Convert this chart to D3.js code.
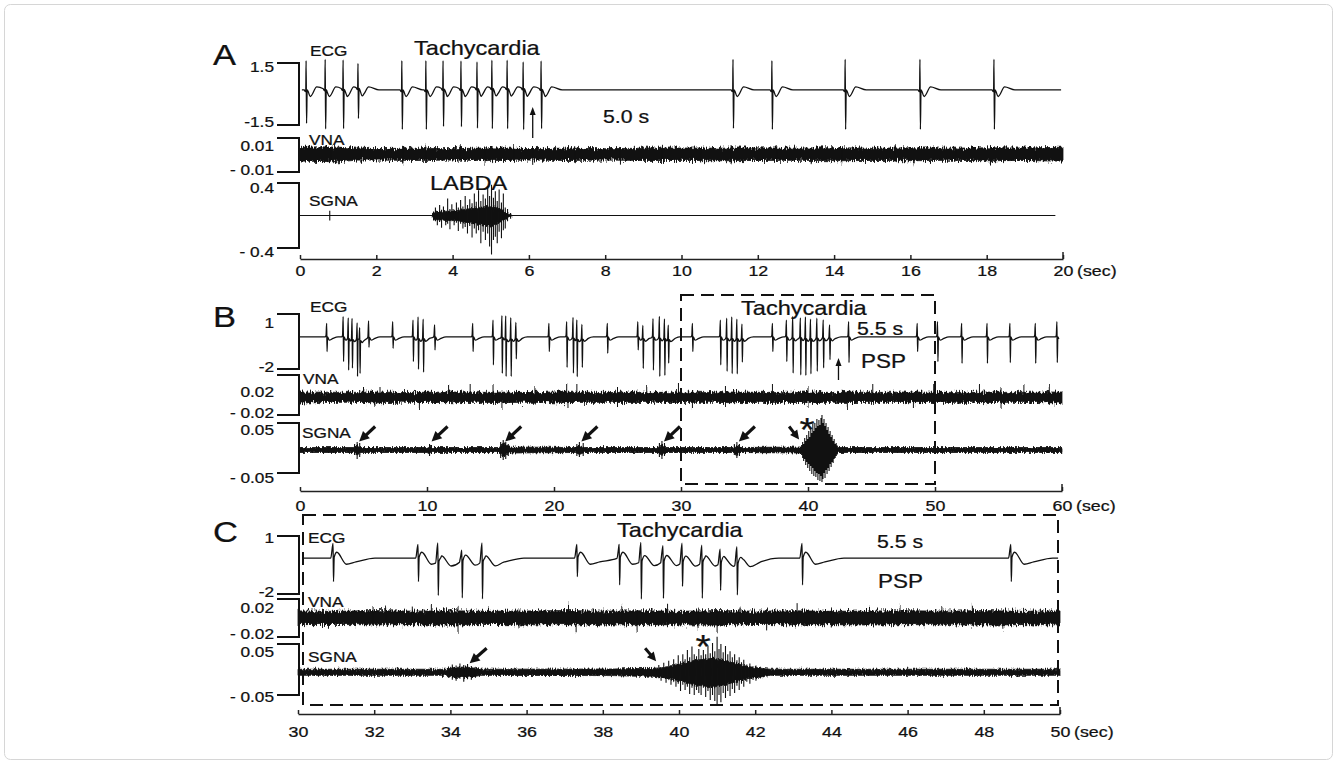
<!DOCTYPE html>
<html>
<head>
<meta charset="utf-8">
<script src="https://cdn.jsdelivr.net/npm/d3@7"></script>
<style>
  html, body { margin: 0; background: #fff; }
  svg { display: block; }
</style>
</head>
<body>
<div id="chart"></div>
<script>
// ---------- data ----------
const ticksA = [0, 2, 4, 6, 8, 10, 12, 14, 16, 18, 20];
const ticksB = [0, 10, 20, 30, 40, 50, 60];
const ticksC = [30, 32, 34, 36, 38, 40, 42, 44, 46, 48, 50];

// scale bars: [top, bottom] for ECG, VNA, SGNA
const rangeValuesA = [[1.5, -1.5], [0.01, -0.01], [0.4, -0.4]];
const rangeLabelsA = [["1.5", "-1.5"], ["0.01", "- 0.01"], ["0.4", "- 0.4"]];
const rangeValuesB = [[1, -2], [0.02, -0.02], [0.05, -0.05]];
const rangeLabelsB = [["1", "-2"], ["0.02", "- 0.02"], ["0.05", "- 0.05"]];
const rangeValuesC = [[1, -2], [0.02, -0.02], [0.05, -0.05]];
const rangeLabelsC = [["1", "-2"], ["0.02", "- 0.02"], ["0.05", "- 0.05"]];

// ECG beats: [time s, R peak, S trough]
const ecgBaseA = 0.2;
const ecgBeatsA = [
  [0.16, 1.61, -1.42], [0.66, 1.65, -1.71], [1.13, 1.61, -1.71], [1.52, 1.40, -1.26],
  [2.67, 1.61, -1.71], [3.30, 1.61, -1.71], [3.75, 1.56, -1.61], [4.22, 1.56, -1.61],
  [4.64, 1.49, -1.71], [5.03, 1.56, -1.75], [5.43, 1.56, -1.75], [5.85, 1.49, -1.78],
  [6.32, 1.56, -1.71], [11.35, 1.68, -1.66], [12.37, 1.61, -1.71], [14.29, 1.68, -1.71],
  [16.25, 1.68, -1.71], [18.19, 1.68, -1.71]
];
const ecgBaseB = -0.25;
const ecgBeatsB = [
  [2.1, .49, -1.05], [3.4, .85, -1.60], [3.8, .90, -1.96], [4.1, .95, -1.78], [4.5, .67, -2.27],
  [4.7, .49, -2.02], [5.4, .67, -.78], [7.3, .58, -.87], [8.9, .67, -1.60], [9.3, .95, -1.91],
  [9.7, .85, -2.05], [10.6, .40, -.96], [13.6, .49, -1.05], [15.2, .67, -1.78], [15.9, .95, -2.20],
  [16.2, 1.04, -2.27], [16.6, .95, -2.27], [17.0, .67, -1.33], [19.6, .49, -1.05], [21.0, .58, -1.91],
  [21.5, .90, -2.15], [21.8, .85, -2.27], [22.2, .58, -1.78], [24.2, .49, -1.14], [26.6, .58, -.96],
  [27.0, .49, -1.87], [27.8, .76, -2.05], [28.3, .95, -2.33], [28.7, .85, -2.24], [29.0, .58, -1.51],
  [30.9, .49, -1.05], [33.1, .67, -1.78], [33.6, .85, -2.05], [34.0, .95, -2.15], [34.4, .85, -2.15],
  [34.8, .58, -1.51], [37.2, .49, -1.05], [38.3, .67, -1.60], [38.8, .95, -2.15], [39.4, .85, -2.27],
  [39.8, .95, -2.24], [40.2, .85, -2.15], [40.7, .85, -2.05], [41.2, .76, -1.87], [41.7, .49, -1.42],
  [43.2, .58, -1.65], [48.6, .49, -1.05], [50.2, .58, -1.60], [52.1, .49, -1.69], [54.1, .49, -1.69],
  [55.9, .49, -1.65], [57.9, .49, -1.69], [59.6, .58, -1.65]
];
const ecgBaseC = -0.14;
const ecgBeatsC = [
  [30.92, .62, -1.36], [33.15, .57, -1.36], [33.67, .88, -1.84], [34.30, .45, -2.02],
  [34.83, .88, -2.02], [37.32, .57, -1.10], [38.43, .57, -1.53], [39.00, .88, -2.05],
  [39.58, .71, -2.02], [40.08, .88, -1.36], [40.60, .80, -1.96], [41.08, .62, -1.53],
  [41.52, .80, -1.71], [43.23, .62, -1.53], [48.71, .57, -1.36]
];

// VNA: band envelope [t, upper, lower] and salient spikes [t, upper, lower]
const vnaCoreA = [
  [0, .0045, -.0035], [0.5, .0048, -.0038], [1, .0046, -.004], [1.5, .004, -.003], [2, .0038, -.003],
  [3, .004, -.0032], [4, .0037, -.003], [5, .0042, -.0033], [6, .0038, -.003], [7, .004, -.0032],
  [8, .0037, -.003], [9, .004, -.0032], [10, .0041, -.0032], [11, .004, -.0034], [12, .0042, -.0032],
  [13, .004, -.0031], [14, .0043, -.0034], [15, .004, -.0032], [16, .0042, -.0034], [17, .004, -.0031],
  [18, .0042, -.0034], [19, .0041, -.0032], [19.8, .0045, -.0036], [20, .0046, -.0036]
];
const vnaSpikesA = [
  [0.3, .0055, -.003], [0.8, .005, -.0045], [1.6, .0052, -.004], [2.7, .004, -.0055], [3.3, .0055, -.0035],
  [4.2, .0058, -.003], [4.85, .004, -.0052], [5.6, .0052, -.0035], [6.1, .004, -.0058], [7.2, .0052, -.004],
  [8.4, .005, -.0045], [9.5, .0054, -.0035], [10.5, .0045, -.005], [11.3, .0055, -.0055], [12.5, .0056, -.0035],
  [13.4, .0045, -.0048], [14.2, .005, -.0055], [15.6, .0056, -.004], [16.1, .0045, -.0055], [17.2, .0052, -.004],
  [18.1, .0045, -.0056], [19.3, .0056, -.004]
];
const vnaCoreB = [
  [0, .003, -.008], [2, .0028, -.0075], [4, .0026, -.0072], [6, .003, -.0078], [8, .0025, -.0072],
  [10, .0027, -.0074], [12, .003, -.0077], [14, .0026, -.0073], [16, .0028, -.0076], [18, .0025, -.0072],
  [20, .003, -.0078], [22, .0027, -.0074], [24, .0026, -.0073], [26, .0029, -.0076], [28, .0026, -.0073],
  [30, .0028, -.0075], [32, .0026, -.0072], [34, .003, -.0077], [36, .0027, -.0074], [38, .0026, -.0073],
  [40, .0029, -.0076], [42, .0026, -.0073], [44, .0028, -.0075], [46, .0026, -.0072], [48, .003, -.0077],
  [50, .0027, -.0074], [52, .0026, -.0073], [54, .0029, -.0076], [56, .0026, -.0073], [58, .0028, -.0075],
  [60, .003, -.008]
];
const vnaSpikesB = [
  [5.0, .009, -.007], [5.9, .003, -.012], [6.3, .008, -.008], [9.4, .003, -.014], [11.7, .01, -.008],
  [13.4, .011, -.008], [15.2, .011, -.007], [15.9, .003, -.014], [18.5, .008, -.01], [21.0, .012, -.008],
  [21.1, .003, -.013], [21.8, .01, -.008], [25.0, .008, -.011], [27.3, .009, -.009], [29.8, .012, -.008],
  [30.9, .003, -.014], [33.5, .009, -.01], [37.2, .011, -.008], [40.0, .008, -.011], [43.1, .003, -.013],
  [45.1, .01, -.008], [48.3, .003, -.012], [49.9, .012, -.008], [53.5, .01, -.009], [55.2, .008, -.012],
  [57.0, .01, -.008], [59.0, .009, -.01]
];
const vnaCoreC = [
  [30, .0075, -.007], [31, .007, -.0068], [32, .0078, -.0072], [33, .0072, -.007], [34, .0076, -.0074],
  [35, .007, -.0068], [36, .0074, -.0072], [37, .0078, -.007], [38, .0072, -.0074], [39, .0076, -.007],
  [40, .007, -.0072], [41, .0078, -.0074], [42, .0072, -.0068], [43, .0076, -.0072], [44, .007, -.007],
  [45, .0074, -.0074], [46, .0076, -.007], [47, .0072, -.0072], [48, .0078, -.0074], [49, .007, -.007],
  [50, .0075, -.0072]
];
const vnaSpikesC = [
  [30.8, .006, -.0124], [31.97, .0128, -.006], [32.3, .011, -.006], [33.0, .011, -.007], [33.5, .014, -.006],
  [34.2, .0128, -.0157], [35.0, .011, -.006], [35.8, .009, -.011], [36.5, .01, -.007], [37.1, .015, -.006],
  [37.3, .006, -.015], [38.5, .0128, -.006], [38.9, .006, -.0145], [39.7, .015, -.007], [40.5, .009, -.011],
  [41.0, .006, -.015], [41.6, .011, -.006], [42.3, .008, -.012], [43.1, .0167, -.006], [44.0, .009, -.011],
  [45.0, .0128, -.006], [45.8, .0128, -.007], [46.9, .0128, -.006], [47.7, .015, -.008], [48.5, .006, -.0124],
  [49.3, .01, -.009]
];

// SGNA: baseline band envelope and burst spikes [t, upper, lower]
const sgnaCoreA = [[0, .006, -.006], [3.45, .006, -.006], [3.55, .04, -.05], [3.8, .05, -.06], [4.1, .06, -.06],
  [4.4, .08, -.09], [4.7, .1, -.11], [5.0, .12, -.13], [5.3, .07, -.07], [5.45, .02, -.02], [5.55, .006, -.006],
  [19.8, .006, -.006]];
const sgnaSpikesA = [
  [0.78, .06, -.06],
  [3.50, .05, -.06], [3.55, .10, -.07], [3.60, .05, -.12], [3.66, .13, -.08], [3.71, .07, -.15], [3.76, .11, -.06],
  [3.82, .06, -.12], [3.87, .21, -.10], [3.93, .08, -.17], [3.98, .14, -.07], [4.04, .07, -.12], [4.10, .16, -.09],
  [4.15, .10, -.19], [4.21, .19, -.10], [4.27, .11, -.16], [4.33, .24, -.14], [4.39, .13, -.22], [4.45, .20, -.13],
  [4.51, .15, -.27], [4.57, .27, -.16], [4.62, .17, -.22], [4.68, .31, -.18], [4.74, .18, -.34], [4.80, .26, -.20],
  [4.86, .21, -.30], [4.92, .36, -.22], [4.97, .24, -.38], [5.02, .38, -.48], [5.07, .22, -.30], [5.12, .30, -.26],
  [5.17, .18, -.34], [5.22, .32, -.20], [5.28, .16, -.28], [5.33, .27, -.18], [5.38, .10, -.16], [5.44, .08, -.07],
  [5.52, .03, -.04]
];
const sgnaCoreB = [
  [0, .001, -.009], [4.2, .001, -.009], [4.5, .006, -.014], [4.8, .001, -.009], [10, .001, -.009],
  [10.2, .004, -.012], [10.4, .001, -.009], [15.7, .001, -.009], [16.0, .01, -.018], [16.4, .002, -.01],
  [21.7, .001, -.009], [22.0, .005, -.013], [22.4, .001, -.009], [28.2, .001, -.009], [28.5, .007, -.015],
  [28.8, .001, -.009], [34.1, .001, -.009], [34.4, .005, -.013], [34.7, .001, -.009], [39.5, .002, -.01],
  [40, .012, -.02], [40.6, .022, -.032], [41.1, .03, -.04], [41.6, .018, -.028], [42.1, .006, -.014],
  [42.4, .001, -.009], [60, .001, -.009]
];
const sgnaSpikesB = [
  [4.3, .008, -.014], [4.5, .012, -.022], [4.7, .010, -.018], [10.2, .008, -.016], [10.35, .006, -.012],
  [15.8, .012, -.020], [16.0, .016, -.024], [16.2, .012, -.022], [16.4, .008, -.016], [21.8, .008, -.016],
  [22.0, .012, -.018], [22.3, .010, -.016], [28.3, .010, -.018], [28.5, .014, -.022], [28.7, .010, -.016],
  [34.2, .008, -.014], [34.4, .012, -.02], [34.6, .008, -.016],
  [39.5, .006, -.014], [39.58, .012, -.02], [39.66, .008, -.026], [39.74, .02, -.022], [39.82, .014, -.034],
  [39.9, .026, -.028], [39.98, .018, -.04], [40.06, .034, -.032], [40.14, .022, -.046], [40.22, .04, -.036],
  [40.3, .03, -.052], [40.38, .048, -.04], [40.46, .034, -.056], [40.54, .05, -.046], [40.62, .04, -.058],
  [40.7, .058, -.05], [40.78, .044, -.064], [40.86, .056, -.052], [40.94, .046, -.066], [41.02, .06, -.056],
  [41.1, .066, -.068], [41.18, .05, -.062], [41.26, .058, -.05], [41.34, .044, -.06], [41.42, .05, -.044],
  [41.5, .036, -.052], [41.58, .042, -.04], [41.66, .028, -.046], [41.74, .034, -.032], [41.82, .022, -.038],
  [41.9, .026, -.028], [41.98, .014, -.03], [42.06, .018, -.022], [42.14, .008, -.02], [42.22, .01, -.016],
  [42.3, .005, -.013]
];
const sgnaCoreC = [
  [30, .0005, -.0115], [33.9, .0005, -.0115], [34.1, .004, -.015], [34.4, .005, -.016], [34.6, .003, -.014],
  [34.8, .0005, -.0115], [38.3, .001, -.012], [38.8, .002, -.013], [39.3, .002, -.013], [39.6, .004, -.016],
  [40.0, .01, -.022], [40.4, .018, -.03], [40.9, .022, -.035], [41.3, .016, -.028], [41.8, .006, -.018],
  [42.2, .002, -.014], [42.4, .0005, -.0115], [50, .0005, -.0115]
];
const sgnaSpikesC = [
  [33.95, .006, -.016], [34.05, .01, -.02], [34.15, .008, -.022], [34.25, .012, -.018], [34.35, .009, -.024],
  [34.45, .011, -.019], [34.55, .007, -.02], [34.65, .005, -.015],
  [39.40, .004, -.014], [39.47, .009, -.017], [39.53, .005, -.022], [39.60, .013, -.016], [39.66, .006, -.026],
  [39.73, .017, -.02], [39.79, .009, -.03], [39.86, .02, -.024], [39.92, .012, -.034], [39.98, .028, -.028],
  [40.04, .016, -.042], [40.10, .03, -.03], [40.16, .02, -.04], [40.22, .038, -.034], [40.28, .024, -.048],
  [40.34, .045, -.036], [40.40, .03, -.05], [40.46, .026, -.04], [40.52, .04, -.046], [40.58, .028, -.05],
  [40.64, .038, -.036], [40.70, .03, -.054], [40.76, .046, -.042], [40.82, .032, -.06], [40.88, .052, -.05],
  [40.94, .036, -.062], [41.00, .064, -.07], [41.05, .04, -.05], [41.10, .05, -.064], [41.16, .034, -.046],
  [41.22, .046, -.056], [41.28, .03, -.042], [41.34, .036, -.052], [41.40, .024, -.038], [41.46, .03, -.046],
  [41.52, .018, -.032], [41.58, .024, -.04], [41.64, .014, -.028], [41.70, .019, -.034], [41.78, .01, -.024],
  [41.86, .012, -.028], [41.94, .006, -.02], [42.02, .008, -.022], [42.12, .004, -.016], [42.22, .003, -.015],
  [42.32, .002, -.013]
];

// annotations
const upArrowTimesA = [6.1];
const upArrowTimesB = [42.4];
const burstArrowTimesB = [4.5, 10.2, 16.0, 22.0, 28.5, 34.4];
const burstArrowTimesC = [34.4];
const onsetArrowTimeB = 39.3;
const onsetArrowTimeC = 39.4;
const peakTimeB = 39.92;
const peakTimeC = 40.63;
const boxB = [30, 50];

// ---------- drawing ----------
const W = 1337, H = 764;
const FONT = '"Liberation Sans", Arial, Helvetica, sans-serif';
const INK = "#111";

const svg = d3.select("#chart").append("svg")
  .attr("width", W).attr("height", H)
  .style("font-family", FONT);

svg.append("rect").attr("x", 4.5).attr("y", 4.5).attr("width", W - 9).attr("height", H - 9)
  .attr("rx", 6).attr("fill", "#fff").attr("stroke", "#d6d6d6");

// noisy-edge texture for the nerve recordings
const defs = svg.append("defs");
function fuzzFilter(id, scale, freq) {
  const f = defs.append("filter").attr("id", id)
    .attr("filterUnits", "userSpaceOnUse").attr("x", 0).attr("y", 0).attr("width", W).attr("height", H)
    .attr("color-interpolation-filters", "sRGB");
  f.append("feTurbulence").attr("type", "fractalNoise").attr("baseFrequency", freq)
    .attr("numOctaves", 2).attr("seed", 7).attr("result", "n");
  f.append("feColorMatrix").attr("in", "n").attr("type", "matrix")
    .attr("values", "0 0 0 0 0.5  0 1 0 0 0  0 0 0 0 0  0 0 0 0 1").attr("result", "m");
  f.append("feDisplacementMap").attr("in", "SourceGraphic").attr("in2", "m")
    .attr("scale", scale).attr("xChannelSelector", "R").attr("yChannelSelector", "G");
}
fuzzFilter("fuzz", 9, "0.9 0.18");
fuzzFilter("fuzzS", 5, "0.9 0.2");

function txt(g, x, y, s, size, anchor) {
  return g.append("text")
    .attr("transform", `translate(${x},${y}) scale(1.15,1)`)
    .attr("text-anchor", anchor || "start")
    .attr("font-size", size).attr("fill", INK)
    .attr("stroke", INK).attr("stroke-width", 0.25).text(s);
}

function bracket(g, y, vals, labels, dyTop, dyBot) {
  const yt = y(vals[0]), yb = y(vals[1]);
  g.append("path").attr("d", `M277,${yt}H299V${yb}H277`)
    .attr("fill", "none").attr("stroke", INK).attr("stroke-width", 2);
  txt(g, 274, yt + dyTop, labels[0], 15, "end");
  txt(g, 274, yb + dyBot, labels[1], 15, "end");
}

function axis(g, x, ticks, yPos, pad) {
  const ax = d3.axisBottom(x).tickValues(ticks).tickSizeInner(-4).tickSizeOuter(0).tickPadding(pad);
  const a = g.append("g").attr("transform", `translate(0,${yPos})`).call(ax);
  a.attr("font-family", FONT);
  a.select(".domain").attr("stroke", "#222").attr("stroke-width", 1.5);
  a.selectAll(".tick line").attr("stroke", "#222").attr("stroke-width", 1.5);
  a.selectAll(".tick text").attr("font-size", 15.5).attr("fill", INK)
    .attr("stroke", INK).attr("stroke-width", 0.25).attr("transform", "scale(1.15,1)");
  const xe = x(ticks[ticks.length - 1]);
  a.append("line").attr("x1", xe).attr("x2", xe).attr("y1", 0).attr("y2", -7)
    .attr("stroke", "#222").attr("stroke-width", 1.5);
  txt(g, xe + 14, yPos + pad + 10.8, "(sec)", 15.5);
}

// sum of per-beat templates on top of a flat baseline
function ecg(g, beats, base, tpl, t0, t1, x, y) {
  const amp = (p, b) => p[1] === "T" ? b[1] - base : p[1] === "B" ? b[2] - base : p[1];
  const keys = new Set([t0, t1]);
  beats.forEach(b => tpl.forEach(p => keys.add(+(b[0] + p[0]).toFixed(4))));
  const ts = [...keys].filter(t => t >= t0 && t <= t1).sort((a, b) => a - b);
  const val = t => {
    let v = base;
    beats.forEach(b => {
      const d = t - b[0];
      if (d <= tpl[0][0] || d >= tpl[tpl.length - 1][0]) return;
      for (let i = 1; i < tpl.length; i++) {
        if (d <= tpl[i][0] + 1e-9) {
          const a = tpl[i - 1], c = tpl[i];
          const va = amp(a, b), vc = amp(c, b);
          v += va + (vc - va) * (d - a[0]) / (c[0] - a[0]);
          break;
        }
      }
    });
    return v;
  };
  g.append("path").datum(ts.map(t => [t, val(t)]))
    .attr("d", d3.line().x(d => x(d[0])).y(d => y(d[1])).curve(d3.curveMonotoneX))
    .attr("fill", "none").attr("stroke", INK).attr("stroke-width", 1.3).attr("stroke-linejoin", "round");
}

function band(g, core, x, y, filter) {
  const gg = g.append("g");
  if (filter) gg.attr("filter", `url(#${filter})`);
  gg.append("path").datum(core)
    .attr("d", d3.area().x(d => x(d[0])).y0(d => y(d[2])).y1(d => y(d[1])))
    .attr("fill", INK).attr("stroke", INK).attr("stroke-width", 0.8);
  return gg;
}
function spikes(g, list, x, y, sw) {
  g.append("path")
    .attr("d", list.map(s => `M${x(s[0])},${y(s[1])}V${y(s[2])}`).join(""))
    .attr("fill", "none").attr("stroke", INK).attr("stroke-width", sw || 1);
}

function arrow(g, tx, ty, hx, hy, hl, hw, sw) {
  const dx = hx - tx, dy = hy - ty, L = Math.hypot(dx, dy), ux = dx / L, uy = dy / L;
  const bx = hx - ux * hl, by = hy - uy * hl;
  g.append("line").attr("x1", tx).attr("y1", ty).attr("x2", bx + ux).attr("y2", by + uy)
    .attr("stroke", INK).attr("stroke-width", sw);
  g.append("path").attr("d", `M${hx},${hy}L${bx - uy * hw},${by + ux * hw}L${bx + uy * hw},${by - ux * hw}Z`)
    .attr("fill", INK);
}

function dashedBox(g, x0, y0, x1, y1) {
  g.append("rect").attr("x", x0).attr("y", y0).attr("width", x1 - x0).attr("height", y1 - y0)
    .attr("fill", "none").attr("stroke", INK).attr("stroke-width", 2).attr("stroke-dasharray", "13,7");
}

// ----- panel A -----
const gA = svg.append("g");
const xA = d3.scaleLinear().domain([0, 20]).range([300, 1063]);
const yEA = d3.scaleLinear().domain([-1.5, 1.5]).range([125, 63]);
const yVA = d3.scaleLinear().domain([-0.01, 0.01]).range([172, 138]);
const ySA = d3.scaleLinear().domain([-0.4, 0.4]).range([248, 183]);

txt(gA, 213, 65, "A", 30);
bracket(gA, yEA, rangeValuesA[0], rangeLabelsA[0], 9, 2);
bracket(gA, yVA, rangeValuesA[1], rangeLabelsA[1], 13, 3);
bracket(gA, ySA, rangeValuesA[2], rangeLabelsA[2], 10, 9);
txt(gA, 310, 56, "ECG", 15);
txt(gA, 414, 55, "Tachycardia", 20.5);
txt(gA, 603, 123, "5.0 s", 18.5);
txt(gA, 309, 145, "VNA", 15);
txt(gA, 309, 206, "SGNA", 15);
txt(gA, 430, 190, "LABDA", 20.5);

ecg(gA, ecgBeatsA, ecgBaseA,
  [[-0.05, 0], [-0.02, -0.08], [-0.008, 0], [0, "T"], [0.012, "B"], [0.028, 0], [0.11, -0.32], [0.28, 0.14], [0.55, 0]],
  0.05, 19.95, xA, yEA);
spikes(band(gA, vnaCoreA, xA, yVA, "fuzz"), vnaSpikesA, xA, yVA, 1);
gA.append("path").datum([sgnaCoreA[0], sgnaCoreA[sgnaCoreA.length - 1]])
  .attr("d", d3.line().x(d => xA(d[0])).y(d => ySA((d[1] + d[2]) / 2)))
  .attr("stroke", INK).attr("stroke-width", 1.2);
band(gA, sgnaCoreA.slice(1, -1), xA, ySA, "fuzzS");
spikes(gA, sgnaSpikesA, xA, ySA, 1.1);
upArrowTimesA.forEach(t => arrow(gA, xA(t), 138, xA(t), 107, 8, 3, 1.3));
axis(gA, xA, ticksA, 259, 6);

// ----- panel B -----
const gB = svg.append("g");
const xB = d3.scaleLinear().domain([0, 60]).range([300, 1062]);
const yEB = d3.scaleLinear().domain([-2, 1]).range([369, 314]);
const yVB = d3.scaleLinear().domain([-0.02, 0.02]).range([415, 375]);
const ySB = d3.scaleLinear().domain([-0.05, 0.05]).range([473, 423]);

txt(gB, 213, 327, "B", 30);
bracket(gB, yEB, rangeValuesB[0], rangeLabelsB[0], 14, 3);
bracket(gB, yVB, rangeValuesB[1], rangeLabelsB[1], 22, 3);
bracket(gB, ySB, rangeValuesB[2], rangeLabelsB[2], 12, 10);
txt(gB, 310, 312, "ECG", 15);
txt(gB, 303, 384, "VNA", 15);
txt(gB, 302, 438, "SGNA", 15);
txt(gB, 741, 315, "Tachycardia", 20.5);
txt(gB, 857, 335, "5.5 s", 18.5);
txt(gB, 861, 368, "PSP", 19.5);

ecg(gB, ecgBeatsB, ecgBaseB,
  [[-0.12, 0], [-0.05, 0.08], [0, "T"], [0.03, "B"], [0.07, 0], [0.2, -0.18], [0.5, -0.08], [0.9, 0]],
  0, 59.75, xB, yEB);
spikes(band(gB, vnaCoreB, xB, yVB, "fuzz"), vnaSpikesB, xB, yVB, 1);
band(gB, sgnaCoreB, xB, ySB, "fuzzS");
spikes(gB, sgnaSpikesB, xB, ySB, 1.1);
upArrowTimesB.forEach(t => arrow(gB, xB(t), 380, xB(t), 358, 8, 3, 1.3));
const sgB0 = ySB(sgnaCoreB[0][1]) + 1;
burstArrowTimesB.forEach(t => {
  const hx = xB(t) + 2, hy = sgB0 - 7;
  arrow(gB, hx + 16, hy - 15, hx, hy, 10, 5, 3.2);
});
arrow(gB, xB(onsetArrowTimeB) - 10, sgB0 - 22, xB(onsetArrowTimeB), sgB0 - 9, 9, 4.5, 3);
txt(gB, xB(peakTimeB), 441, "*", 34, "middle");
axis(gB, xB, ticksB, 491, 9);
dashedBox(gB, xB(boxB[0]), 295, xB(boxB[1]), 484);

// ----- panel C -----
const gC = svg.append("g");
const xC = d3.scaleLinear().domain([30, 50]).range([298, 1060]);
const yEC = d3.scaleLinear().domain([-2, 1]).range([594, 536]);
const yVC = d3.scaleLinear().domain([-0.02, 0.02]).range([637, 599]);
const ySC = d3.scaleLinear().domain([-0.05, 0.05]).range([695, 644]);

txt(gC, 213, 542, "C", 30);
bracket(gC, yEC, rangeValuesC[0], rangeLabelsC[0], 7, 3);
bracket(gC, yVC, rangeValuesC[1], rangeLabelsC[1], 14, 2);
bracket(gC, ySC, rangeValuesC[2], rangeLabelsC[2], 13, 7);
txt(gC, 308, 543, "ECG", 15);
txt(gC, 308, 607, "VNA", 15);
txt(gC, 308, 662, "SGNA", 15);
txt(gC, 617, 537, "Tachycardia", 20.5);
txt(gC, 877, 548, "5.5 s", 18.5);
txt(gC, 878, 588, "PSP", 19.5);

ecg(gC, ecgBeatsC, ecgBaseC,
  [[-0.06, 0], [0, "T"], [0.012, "B"], [0.03, 0.05], [0.1, 0.3], [0.35, -0.32], [0.6, -0.2], [1.1, 0]],
  30.15, 49.95, xC, yEC);
spikes(band(gC, vnaCoreC, xC, yVC, "fuzz"), vnaSpikesC, xC, yVC, 1);
band(gC, sgnaCoreC, xC, ySC, "fuzzS");
spikes(gC, sgnaSpikesC, xC, ySC, 1.1);
const sgC0 = ySC(sgnaCoreC[0][1]) + 2;
burstArrowTimesC.forEach(t => {
  const hx = xC(t) + 4, hy = sgC0 - 8;
  arrow(gC, hx + 17, hy - 15, hx, hy, 10, 5, 3.2);
});
arrow(gC, xC(onsetArrowTimeC) - 11, sgC0 - 23, xC(onsetArrowTimeC), sgC0 - 10, 9, 4.5, 3);
txt(gC, xC(peakTimeC), 658, "*", 34, "middle");
axis(gC, xC, ticksC, 714, 12);
dashedBox(gC, xC(30) + 5, 515, xC(50) - 2, 705);
</script>
</body>
</html>
